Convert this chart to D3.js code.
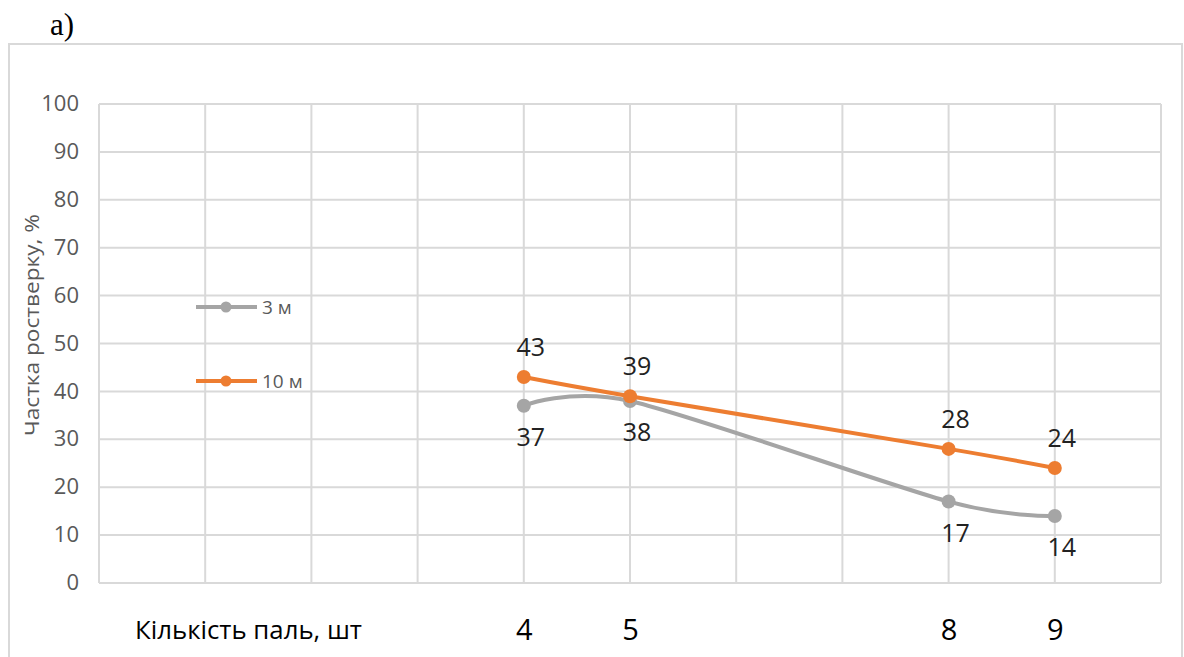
<!DOCTYPE html>
<html><head><meta charset="utf-8">
<script src="https://cdn.jsdelivr.net/npm/d3@7"></script>
<style>html,body{margin:0;padding:0;background:#fff;}svg{display:block;}</style>
</head><body>
<svg id="c" width="1184" height="657"></svg>
<script>
const categories = [4, 5, 8, 9];
const series3m = [37, 38, 17, 14];
const series10m = [43, 39, 28, 24];
const yTicks = [0, 10, 20, 30, 40, 50, 60, 70, 80, 90, 100];
const xGrid = [0, 1, 2, 3, 4, 5, 6, 7, 8, 9, 10];
const xTickLabels = ["4", "5", "8", "9"];
const seriesNames = ["3 м", "10 м"];

const svg = d3.select("#c");
const x = d3.scaleLinear().domain([0, 10]).range([99, 1161]);
const y = d3.scaleLinear().domain([0, 100]).range([583, 104]);
const grid = "#d9d9d9";
const gray = "#a5a5a5", orange = "#ed7d31";

svg.append("text").attr("x", 50).attr("y", 35).attr("font-family", "Liberation Serif, serif")
  .attr("font-size", 31).attr("fill", "#000").text("a)");

svg.append("rect").attr("x", 9).attr("y", 44).attr("width", 1173).attr("height", 620)
  .attr("fill", "none").attr("stroke", grid).attr("stroke-width", 2);

const g = svg.append("g");
g.selectAll(".hg").data(yTicks).join("line")
  .attr("x1", x(0)).attr("x2", x(10)).attr("y1", d => y(d)).attr("y2", d => y(d))
  .attr("stroke", grid).attr("stroke-width", 2);
g.selectAll(".vg").data(xGrid).join("line")
  .attr("x1", d => x(d)).attr("x2", d => x(d)).attr("y1", y(0)).attr("y2", y(100))
  .attr("stroke", grid).attr("stroke-width", 2);

// y axis tick labels
const yAxis = d3.axisLeft(y).tickValues(yTicks).tickSize(0).tickPadding(0);
const ya = svg.append("g").attr("transform", `translate(${79},0)`).call(yAxis);
ya.select(".domain").remove();
ya.selectAll("text").attr("font-family", "Open Sans, sans-serif").attr("font-size", 22)
  .attr("fill", "#595959").attr("dy", "0.3em");

// x axis tick labels
const xAxis = d3.axisBottom(x).tickValues(categories).tickFormat((d, i) => xTickLabels[i]).tickSize(0).tickPadding(0);
const xa = svg.append("g").attr("transform", `translate(0,${640})`).call(xAxis);
xa.select(".domain").remove();
xa.selectAll("text").attr("font-family", "Open Sans, sans-serif").attr("font-size", 29)
  .attr("fill", "#000").attr("dy", 0).attr("y", 0);

svg.append("text").attr("x", 135).attr("y", 639).attr("font-family", "Open Sans, sans-serif")
  .attr("font-size", 26).attr("fill", "#000").attr("textLength", 227).attr("lengthAdjust", "spacingAndGlyphs")
  .text("Кількість паль, шт");

svg.append("text").attr("transform", "translate(39,325) rotate(-90)").attr("text-anchor", "middle")
  .attr("font-family", "Open Sans, sans-serif").attr("font-size", 20).attr("fill", "#595959")
  .attr("textLength", 222).attr("lengthAdjust", "spacingAndGlyphs")
  .text("Частка ростверку, %");

const line = d3.line().x(d => x(d[0])).y(d => y(d[1])).curve(d3.curveCardinal.tension(0.15));
const sets = [
  {vals: series3m, color: gray, dy: 31},
  {vals: series10m, color: orange, dy: -30}
];
sets.forEach(s => {
  const pts = categories.map((c, i) => [c, s.vals[i]]);
  svg.append("path").attr("d", line(pts)).attr("fill", "none").attr("stroke", s.color)
    .attr("stroke-width", 4).attr("stroke-linecap", "round");
  svg.selectAll(null).data(pts).join("circle").attr("cx", d => x(d[0])).attr("cy", d => y(d[1]))
    .attr("r", 7).attr("fill", s.color);
  svg.selectAll(null).data(pts).join("text").attr("x", d => x(d[0]) + 7).attr("y", d => y(d[1]) + s.dy)
    .attr("dy", "0.36em").attr("text-anchor", "middle").attr("font-family", "Open Sans, sans-serif")
    .attr("font-size", 25).attr("fill", "#222").text(d => d[1]);
});

// legend
const leg = [{name: seriesNames[0], color: gray, ly: 307}, {name: seriesNames[1], color: orange, ly: 381}];
leg.forEach(l => {
  svg.append("line").attr("x1", 196).attr("x2", 257).attr("y1", l.ly).attr("y2", l.ly)
    .attr("stroke", l.color).attr("stroke-width", 4);
  svg.append("circle").attr("cx", 226).attr("cy", l.ly).attr("r", 5.5).attr("fill", l.color);
  svg.append("text").attr("x", 262).attr("y", l.ly).attr("dy", "0.35em").attr("font-family", "Open Sans, sans-serif")
    .attr("font-size", 19).attr("fill", "#595959").text(l.name);
});
</script>
</body></html>
